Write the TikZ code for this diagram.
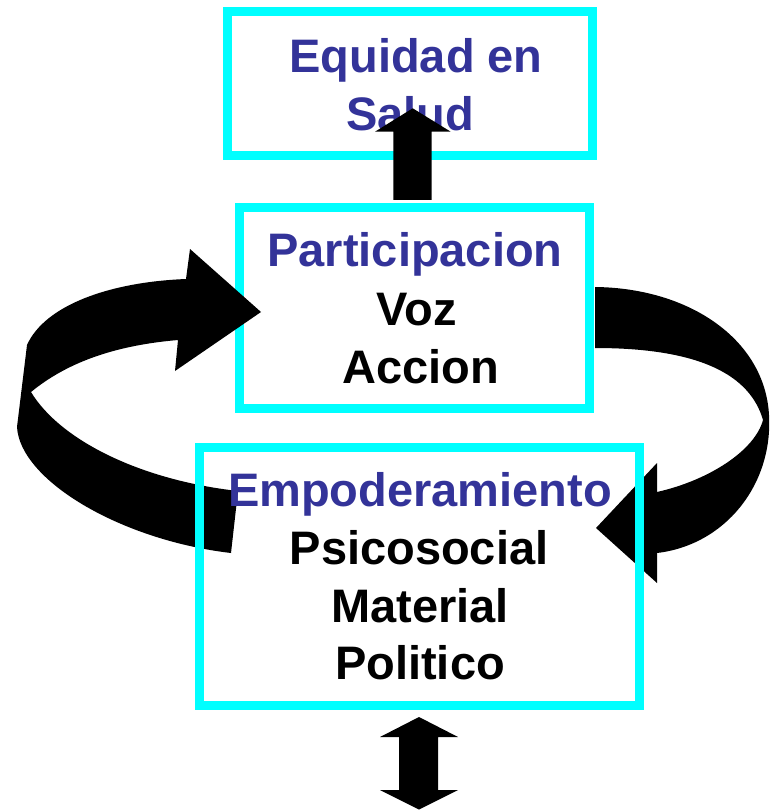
\documentclass[tikz,border=0pt]{standalone}
\usepackage{fontspec}
\setmainfont{Liberation Sans}
\definecolor{boxcyan}{HTML}{00FFFF}
\definecolor{titleblue}{HTML}{333399}
\begin{document}
\begin{tikzpicture}[x=1pt,y=-1pt,
  cbox/.style={draw=boxcyan,line width=9pt,line join=miter,rectangle,inner sep=0pt,fill=white},
  lbl/.style={anchor=base,inner sep=0pt,font=\fontsize{47}{58}\selectfont\bfseries},
  ttl/.style={lbl,text=titleblue},
  blk/.style={fill=black,draw=none}]
\useasboundingbox (0,0) rectangle (769,810);
% box 1
\node[cbox,minimum width=365.5pt,minimum height=144.5pt] (b1) at (409.75,83.75) {};
\node[ttl] (t1a) at (416,72.5) {Equidad en};
\node[ttl] (t1b) at (410,130.5) {Salud};
% up arrow
\fill[blk] (393.3,200) -- (393.3,131.7) -- (375,131.7) -- (412.7,108.3) -- (450.7,131.7) -- (431.7,131.7) -- (431.7,200) -- cycle;
% box 2
\node[cbox,minimum width=350pt,minimum height=200pt] (b2) at (414.5,308) {};
\node[ttl] (t2a) at (415,266.5) {Participacion};
\node[lbl] (t2b) at (417,325.5) {Voz};
\node[lbl] (t2c) at (420.5,383) {Accion};
% left curved arrow
\fill[blk] (186,279) .. controls (110,282) and (45,305) .. (27,345)
  -- (17,427) .. controls (20,480) and (120,540) .. (231,553)
  -- (238,491) .. controls (140,480) and (60,440) .. (31,392)
  .. controls (70,360) and (120,345) .. (178,340)
  -- (175,371) -- (261,312) -- (190,249) -- cycle;
% right curved arrow
\fill[blk] (595,287) .. controls (690,288) and (765,340) .. (769,415)
  .. controls (773,485) and (725,545) .. (657,553)
  -- (657,583) -- (596,528) -- (657,463) -- (657,492)
  .. controls (710,480) and (755,450) .. (763,420)
  .. controls (750,375) and (700,348) .. (595,348) -- cycle;
% box 3
\node[cbox,fill=none,minimum width=440pt,minimum height=258pt] (b3) at (419.5,576) {};
\node[ttl] (t3a) at (420,506) {Empoderamiento};
\node[lbl] (t3b) at (419,564.5) {Psicosocial};
\node[lbl] (t3c) at (420,622.5) {Material};
\node[lbl] (t3d) at (420,679.5) {Politico};
% double arrow
\fill[blk] (419,717) -- (458,737) -- (438,737) -- (438,790) -- (458,790) -- (419,809.5)
  -- (380,790) -- (399,790) -- (399,737) -- (380,737) -- cycle;
\end{tikzpicture}
\end{document}
